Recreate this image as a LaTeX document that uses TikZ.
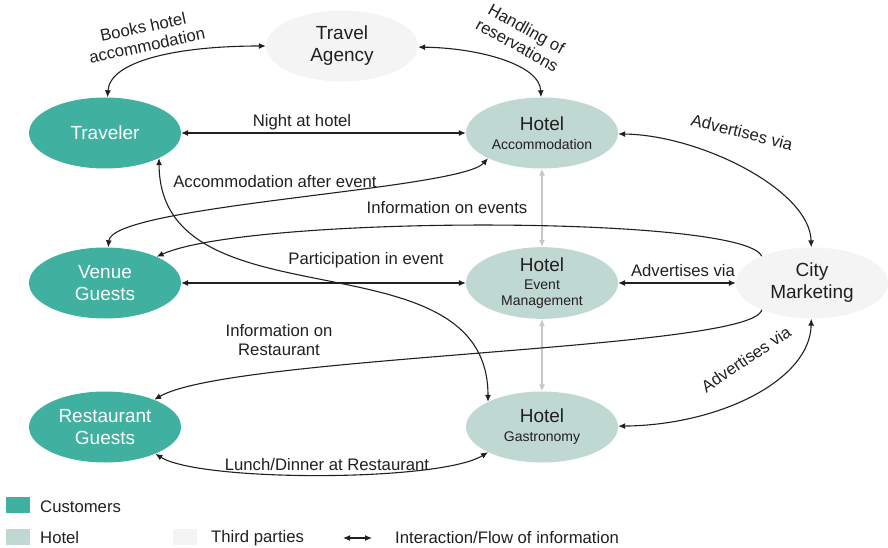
\documentclass[tikz,border=0pt]{standalone}
\usepackage{fontspec}
\setmainfont{Liberation Sans}
\usetikzlibrary{arrows.meta,shapes.geometric}
\definecolor{custteal}{HTML}{40B0A0}
\definecolor{hotelgrey}{HTML}{C0D8D2}
\definecolor{thirdgrey}{HTML}{F3F4F3}
\definecolor{inkgrey}{HTML}{231F20}
\def\labelfont{\fontsize{16.7}{19}\selectfont}
\def\nodefont{\fontsize{19}{22}\selectfont}
\def\subfont{\fontsize{14}{16.5}\selectfont}
\tikzset{
	blob/.style={ellipse, minimum width=152pt, minimum height=71pt, inner sep=0pt, align=center, font=\nodefont},
	customer/.style={blob, fill=custteal, text=white},
	hotelpart/.style={blob, fill=hotelgrey, text=inkgrey},
	thirdparty/.style={blob, fill=thirdgrey, text=inkgrey},
	flow/.style={{Latex[length=7pt,width=6pt]}-{Latex[length=7pt,width=6pt]}, line width=1.1pt, draw=inkgrey},
	oneflow/.style={-{Latex[length=7pt,width=6pt]}, line width=1.1pt, draw=inkgrey},
	innerflow/.style={{Latex[length=7pt,width=6pt]}-{Latex[length=7pt,width=6pt]}, line width=1.1pt, draw=black!22},
	lbl/.style={font=\labelfont, text=inkgrey, align=center, inner sep=0pt},
	keybox/.style={minimum width=24pt, minimum height=16pt, inner sep=0pt}
}

\begin{document}
\begin{tikzpicture}[x=1pt, y=-1pt]
			%%%%% START %%%%%
			\useasboundingbox (0, 0) rectangle (888, 548);
			
			\node[thirdparty] (agency) at (342, 46) {Travel\\Agency};
			\node[customer] (trav) at (105, 133) {Traveler};
			\node[customer] (venue) at (105, 283) {Venue\\Guests};
			\node[customer] (rest) at (105, 427) {Restaurant\\Guests};
			
			\node[hotelpart] (hacc) at (542, 133) {Hotel\\[-3pt]{\subfont Accommodation}};
			\node[hotelpart] (hev) at (542, 283) {Hotel\\[-4pt]{\subfont Event}\\[-6pt]{\subfont Management}};
			\node[hotelpart] (gast) at (542, 427) {Hotel\\[-3pt]{\subfont Gastronomy}};
			\node[thirdparty] (city) at (812, 283) {City\\Marketing};
			
			\draw[innerflow] (hacc) -- (hev);
			\draw[innerflow] (hev) -- (gast);
			
			\draw[flow] (trav) .. controls (110, 60) and (180, 46) .. (agency);
			\draw[flow] (agency) .. controls (480, 48) and (540, 65) .. (hacc);
			\draw[flow] (trav) -- (hacc);
			\draw[flow] (hacc.205) .. controls (460, 190) and (112, 205) .. (venue);
			\draw[flow] (trav.-25) .. controls (160, 330) and (488, 230) .. (gast.155);
			\draw[oneflow] (city.152) .. controls (745, 215) and (250, 215) .. (venue.27);
			\draw[flow] (venue) -- (hev);
			\draw[flow] (hev) -- (city);
			\draw[oneflow] (city.208) .. controls (755, 350) and (230, 355) .. (rest.29);
			\draw[flow] (rest.-28) .. controls (200, 482) and (440, 482) .. (gast.205);
			\draw[flow] (hacc) .. controls (700, 135) and (810, 190) .. (city);
			\draw[flow] (gast) .. controls (720, 425) and (810, 380) .. (city);
			
			\node[lbl, rotate=12] (lbook) at (145, 36) {Books hotel\\accommodation};
			\node[lbl, rotate=-29] (lhand) at (522, 37) {Handling of\\reservations};
			\node[lbl] (lnight) at (302, 122) {Night at hotel};
			\node[lbl] (lafter) at (275, 182) {Accommodation after event};
			\node[lbl] (levents) at (447, 208) {Information on events};
			\node[lbl] (lpart) at (366, 260) {Participation in event};
			\node[lbl] (ladvmid) at (683, 271) {Advertises via};
			\node[lbl, rotate=-14] (ladvtop) at (742, 132) {Advertises via};
			\node[lbl, rotate=34] (ladvbot) at (746, 359) {Advertises via};
			\node[lbl] (lrestinfo) at (279, 340) {Information on\\Restaurant};
			\node[lbl] (llunch) at (327, 465) {Lunch/Dinner at Restaurant};
			
			%%%%% LEGEND %%%%%
			\node[keybox, fill=custteal] (keycust) at (18, 505) {};
			\node[lbl, anchor=west] (keycusttxt) at (40, 507) {Customers};
			\node[keybox, fill=hotelgrey] (keyhotel) at (18, 537) {};
			\node[lbl, anchor=west] (keyhoteltxt) at (40, 538) {Hotel};
			\node[keybox, fill=thirdgrey] (keythird) at (185, 537) {};
			\node[lbl, anchor=west] (keythirdtxt) at (211, 538) {Third parties};
			\coordinate (keyl) at (343, 538);
			\coordinate (keyr) at (372, 538);
			\draw[flow] (keyl) -- (keyr);
			\node[lbl, anchor=west] (keyflowtxt) at (395, 538) {Interaction/Flow of information};
			%%%%% END %%%%%
\end{tikzpicture}
\end{document}
